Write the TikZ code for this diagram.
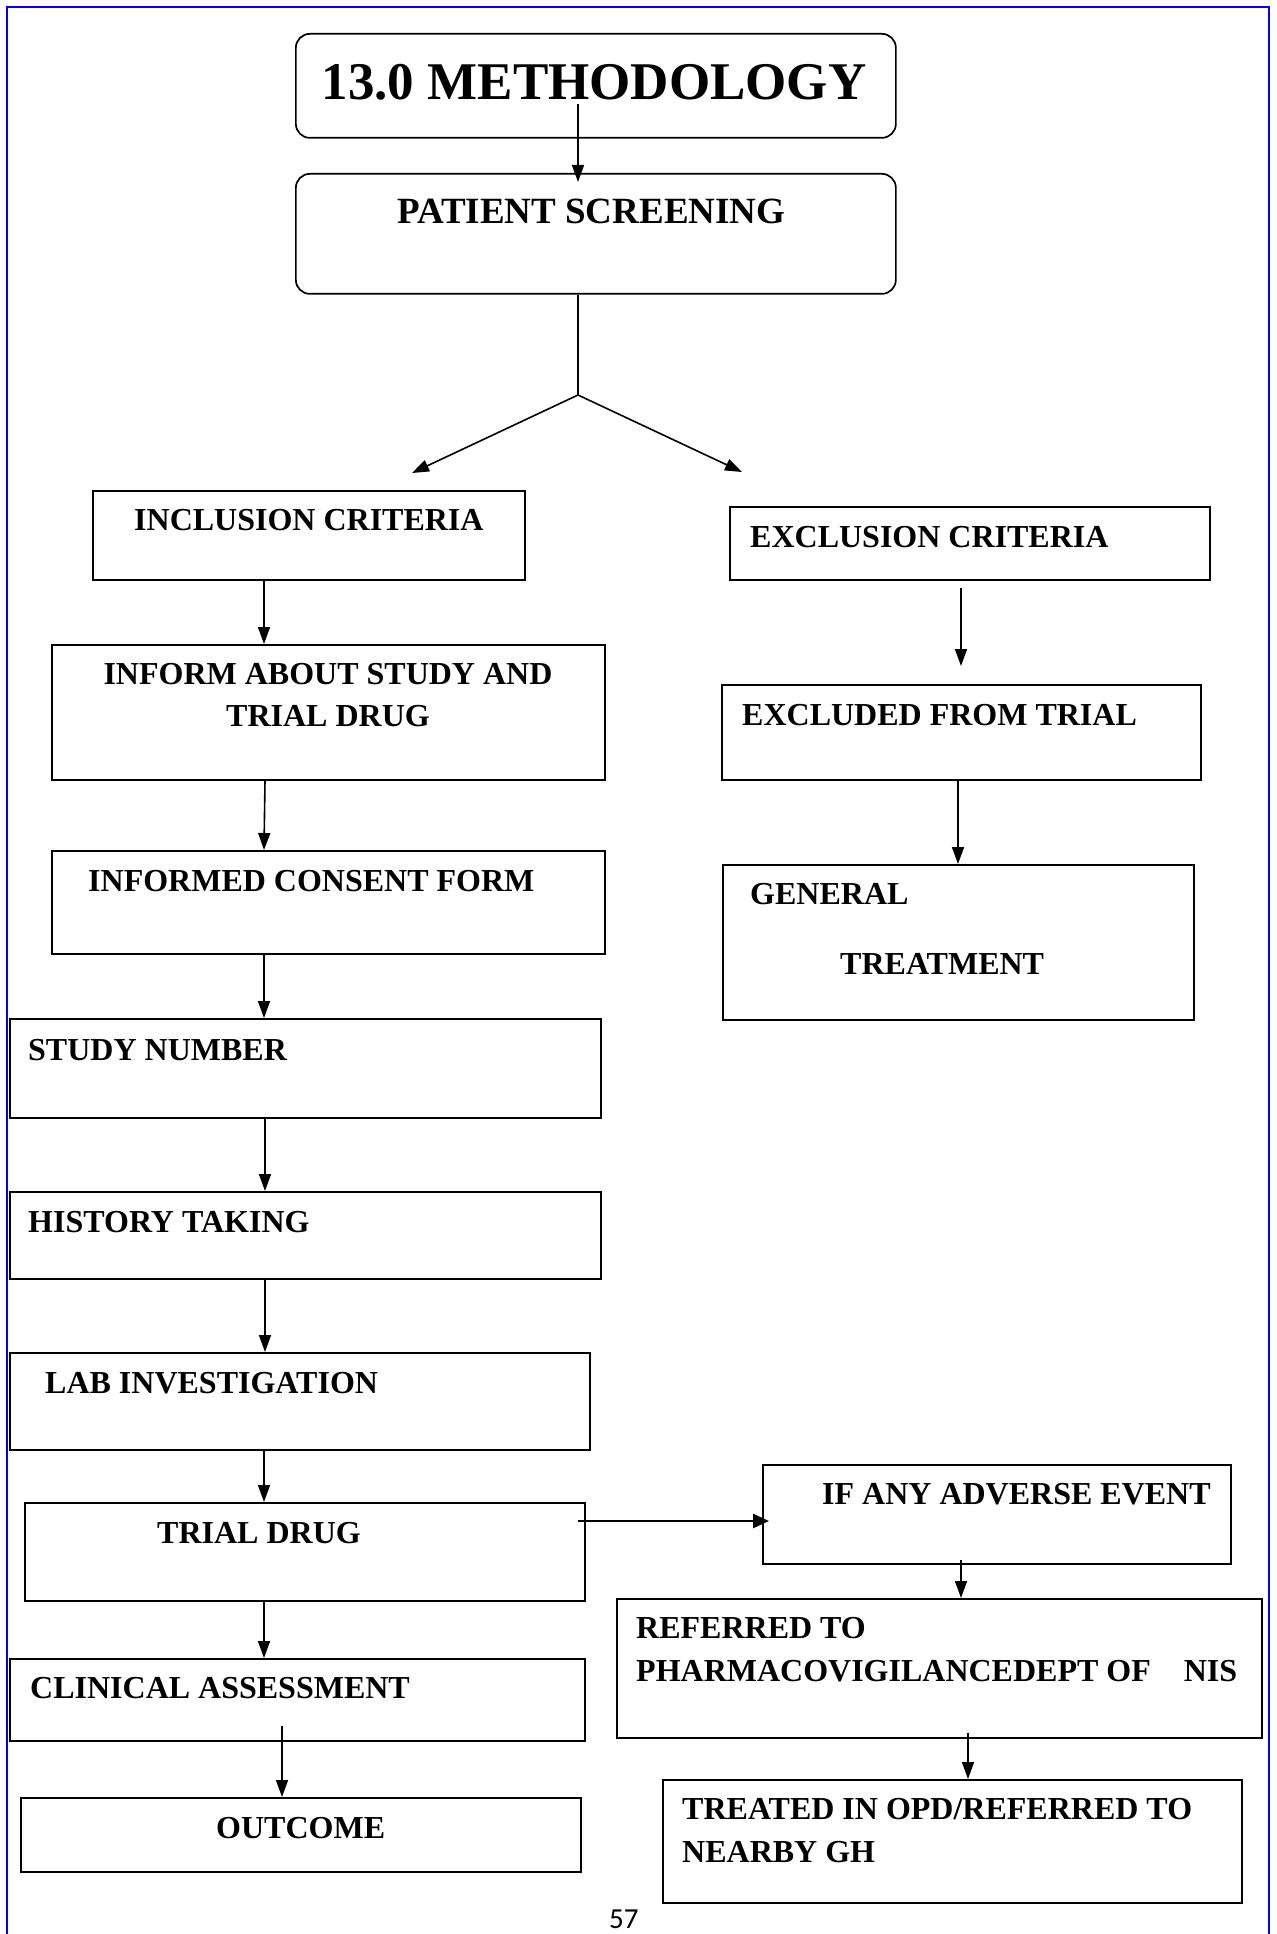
\documentclass[tikz,border=0pt]{standalone}
\usepackage{fontspec}
\setmainfont{Liberation Serif}
\newfontfamily\pagefont{Carlito}
\usetikzlibrary{arrows.meta}
\begin{document}
\begin{tikzpicture}[x=1pt,y=-1pt,
  box/.style={draw=black, line width=1.7pt, rectangle, inner sep=0pt, anchor=north west},
  rbox/.style={box, rounded corners=14pt},
  txt/.style={font=\bfseries\fontsize{32}{40}\selectfont, inner sep=0pt, anchor=base west},
  conn/.style={line width=1.6pt},
  arr/.style={line width=1.6pt, -{Triangle[length=17pt,width=12pt]}},
]
\useasboundingbox (0,0) rectangle (1276,1934);
\fill[white] (0,0) rectangle (1276,1934);
% page frame
\draw[blue, line width=2pt] (7,1934) -- (7,7) -- (1269,7) -- (1269,1934);

% boxes
\node[rbox, minimum width=600pt, minimum height=104pt] (title) at (295,33) {};
\node[rbox, minimum width=600pt, minimum height=120pt] (screen) at (295,173) {};
\node[box, minimum width=432pt, minimum height=89pt] (inc) at (92,490) {};
\node[box, minimum width=553pt, minimum height=135pt] (inform) at (51,644) {};
\node[box, minimum width=553pt, minimum height=103pt] (consent) at (51,850) {};
\node[box, minimum width=591pt, minimum height=99pt] (study) at (9,1018) {};
\node[box, minimum width=591pt, minimum height=87pt] (history) at (9,1191) {};
\node[box, minimum width=580pt, minimum height=97pt] (lab) at (9,1352) {};
\node[box, minimum width=560pt, minimum height=98pt] (trial) at (24,1502) {};
\node[box, minimum width=575pt, minimum height=82pt] (clinical) at (9,1658) {};
\node[box, minimum width=560pt, minimum height=74pt] (outcome) at (20,1797) {};
\node[box, minimum width=480pt, minimum height=73pt] (excl) at (729,506) {};
\node[box, minimum width=479pt, minimum height=95pt] (excluded) at (721,684) {};
\node[box, minimum width=471pt, minimum height=155pt] (general) at (722,864) {};
\node[box, minimum width=468pt, minimum height=99pt] (adverse) at (762,1464) {};
\node[box, minimum width=645pt, minimum height=139pt] (referred) at (616,1598) {};
\node[box, minimum width=579pt, minimum height=123pt] (treated) at (662,1779) {};

% texts
\node[txt, anchor=base, font=\bfseries\fontsize{53}{60}\selectfont] (tTitle) at (594,100) {13.0 METHODOLOGY};
\node[txt, font=\bfseries\fontsize{37}{44}\selectfont] (tScreen) at (397,224) {PATIENT SCREENING};
\node[txt] (tInc) at (134,530) {INCLUSION CRITERIA};
\node[txt, anchor=base] (tInformA) at (328,684) {INFORM ABOUT STUDY AND};
\node[txt, anchor=base] (tInformB) at (328,726) {TRIAL DRUG};
\node[txt] (tConsent) at (88,891) {INFORMED CONSENT FORM};
\node[txt] (tStudy) at (28,1060) {STUDY NUMBER};
\node[txt] (tHistory) at (28,1232) {HISTORY TAKING};
\node[txt] (tLab) at (45,1393) {LAB INVESTIGATION};
\node[txt] (tTrial) at (157,1543) {TRIAL DRUG};
\node[txt] (tClinical) at (30,1698) {CLINICAL ASSESSMENT};
\node[txt] (tOutcome) at (216,1838) {OUTCOME};
\node[txt] (tExcl) at (750,547) {EXCLUSION CRITERIA};
\node[txt] (tExcluded) at (742,725) {EXCLUDED FROM TRIAL};
\node[txt] (tGeneralA) at (750,904) {GENERAL};
\node[txt] (tGeneralB) at (840,974) {TREATMENT};
\node[txt] (tAdverse) at (822,1504) {IF ANY ADVERSE EVENT};
\node[txt] (tReferredA) at (636,1638) {REFERRED TO};
\node[txt] (tReferredB) at (636,1681) {PHARMACOVIGILANCEDEPT OF\hspace{33pt}NIS};
\node[txt] (tTreatedA) at (682,1819) {TREATED IN OPD/REFERRED TO};
\node[txt] (tTreatedB) at (682,1862) {NEARBY GH};
\node[inner sep=0pt, anchor=base west, font=\pagefont\fontsize{29}{34}\selectfont] (page) at (609,1928) {57};

% column coordinates
\coordinate (cT) at (578,0);
\coordinate (cL) at (264,0);
\coordinate (cL2) at (265,0);
\coordinate (cO) at (282,0);
\coordinate (cE) at (961,0);
\coordinate (cG) at (958,0);
\coordinate (cR) at (968,0);
\coordinate (yA) at (0,1521);
\coordinate (br) at (578,395);
\coordinate (lt) at (412,473);
\coordinate (rt) at (742,472);
\coordinate (tStart) at (578,104);

% connectors
\draw[arr, shorten >=-9pt] (tStart) -- (screen.north -| cT);
\draw[conn] (screen.south -| cT) -- (br);
\draw[arr] (br) -- (lt);
\draw[arr] (br) -- (rt);

\draw[arr] (inc.south -| cL) -- (inform.north -| cL);
\draw[arr] (inform.south -| cL2) -- (consent.north -| cL);
\draw[arr] (consent.south -| cL) -- (study.north -| cL);
\draw[arr] (study.south -| cL2) -- (history.north -| cL2);
\draw[arr] (history.south -| cL2) -- (lab.north -| cL2);
\draw[arr] (lab.south -| cL) -- (trial.north -| cL);
\draw[arr] (trial.south -| cL) -- (clinical.north -| cL);
\draw[arr, shorten <=-16pt] (clinical.south -| cO) -- (outcome.north -| cO);

\draw[arr, shorten <=7pt, shorten >=18pt] (excl.south -| cE) -- (excluded.north -| cE);
\draw[arr] (excluded.south -| cG) -- (general.north -| cG);

\draw[line width=2.6pt, -{Triangle[length=16pt,width=14pt]}, shorten <=-8pt, shorten >=-7pt] (trial.east |- yA) -- (adverse.west |- yA);
\draw[arr, shorten <=-5pt] (adverse.south -| cE) -- (referred.north -| cE);
\draw[arr, shorten <=-6pt] (referred.south -| cR) -- (treated.north -| cR);
\end{tikzpicture}
\end{document}
